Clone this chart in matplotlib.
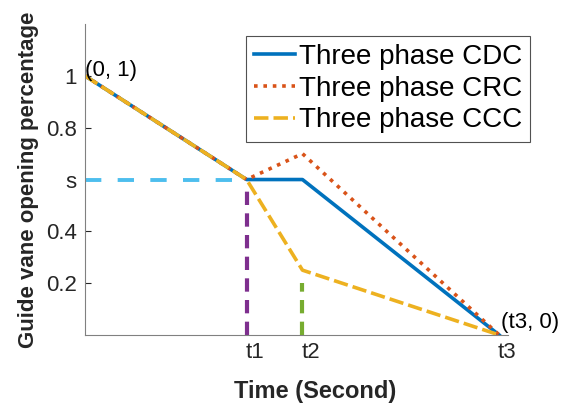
import matplotlib
matplotlib.use("Agg")
import matplotlib.pyplot as plt
import matplotlib.transforms as mtransforms

# Key instants (normalised time) and opening levels
t1, t2, t3 = 0.39, 0.525, 1.0
s = 0.6

time_cdc = [0, t1, t2, t3]
open_cdc = [1.0, s, s, 0.0]
time_crc = [0, t1, t2, t3]
open_crc = [1.0, s, 0.70, 0.0]
time_ccc = [0, t1, t2, t3]
open_ccc = [1.0, s, 0.25, 0.0]

series_labels = ["Three phase CDC", "Three phase CRC", "Three phase CCC"]
ytick_vals = [0.2, 0.4, 0.6, 0.8, 1.0]
ytick_text = ["0.2", "0.4", "s", "0.8", "1"]
xtick_vals = [t1, t2, t3]
xtick_text = ["t1", "t2", "t3"]
guide_t1_top = 0.56
guide_t2_top = 0.20

plt.rcParams["font.family"] = ["Liberation Sans", "DejaVu Sans"]

fig = plt.figure(figsize=(5.64, 4.03), dpi=100)
ax = fig.add_axes([0.151, 0.169, 0.750, 0.771])

blue = "#0072BD"
orange = "#D95319"
yellow = "#EDB120"
purple = "#7E2F8E"
green = "#77AC30"
cyan = "#4DBEEE"
txt = "#262626"

# reference guide lines
ax.plot([0, t1], [s, s], color=cyan, lw=2.8, dashes=(4.2, 4.2))
ax.plot([t1, t1], [0, guide_t1_top], color=purple, lw=3.0, dashes=(3.2, 2.0))
ax.plot([t2, t2], [0, guide_t2_top], color=green, lw=3.0, dashes=(3.2, 2.0))

l1, = ax.plot(time_cdc, open_cdc, color=blue, lw=2.6, label=series_labels[0])
l2, = ax.plot(time_crc, open_crc, color=orange, lw=2.6, ls=(0, (1, 1.6)), label=series_labels[1])
l3, = ax.plot(time_ccc, open_ccc, color=yellow, lw=2.6, dashes=(4, 1.4), label=series_labels[2])

ax.set_xlim(0, 1.022)
ax.set_ylim(0, 1.2)
ax.set_yticks(ytick_vals)
ax.set_yticklabels(ytick_text)
ax.set_xticks(xtick_vals)
ax.set_xticklabels(xtick_text)
ax.tick_params(axis="both", labelsize=16, colors=txt, direction="in", length=4)
ax.tick_params(axis="x", pad=5, length=0)
ax.tick_params(axis="y", pad=6)
shift = mtransforms.ScaledTranslation(8 / 100, 0, fig.dpi_scale_trans)
for lab in ax.get_xticklabels():
    lab.set_transform(lab.get_transform() + shift)
for side in ("top", "right"):
    ax.spines[side].set_visible(False)
for side in ("left", "bottom"):
    ax.spines[side].set_color("#808080")

ax.text(0.0, 1.0, "(0, 1)", fontsize=16, ha="left", va="baseline", color="black")
ax.text(t3 + 0.005, 0.008, "(t3, 0)", fontsize=16, ha="left", va="bottom", color="black",
        clip_on=False)

ax.set_xlabel("Time (Second)", fontsize=17, fontweight="bold", color=txt)
ax.xaxis.set_label_coords(0.544, -0.145)
ax.set_ylabel("Guide vane opening percentage", fontsize=16, fontweight="bold", color=txt)
ax.yaxis.set_label_coords(-0.108, 0.5)

leg = fig.legend(handles=[l1, l2, l3], loc="upper left", bbox_to_anchor=(0.436, 0.911),
                 fontsize=20, frameon=True, fancybox=False, edgecolor="#262626",
                 handlelength=1.45, handletextpad=0.15, borderpad=0.3, labelspacing=0.2,
                 borderaxespad=0)
leg.get_frame().set_linewidth(0.8)

fig.savefig("out.png", dpi=100)
